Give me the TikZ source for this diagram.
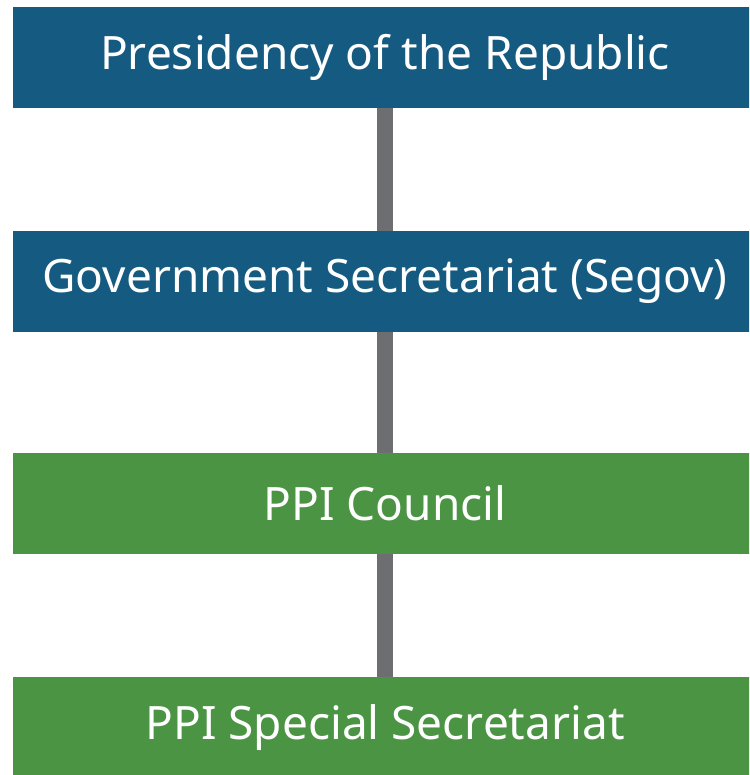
\documentclass[tikz,border=0pt]{standalone}
\usepackage{fontspec}
\setmainfont{Noto Sans}
\usetikzlibrary{positioning}
\definecolor{segblue}{RGB}{21,90,128}
\definecolor{ppigreen}{RGB}{74,148,67}
\definecolor{linkgray}{RGB}{109,110,113}
\tikzset{gov/.style={rectangle,fill=segblue,text=white,minimum width=744pt,minimum height=101pt,inner sep=0pt,font=\fontsize{46}{52}\selectfont},
            ppi/.style={gov,fill=ppigreen}, link/.style={linkgray,line width=16pt}}

\begin{document}
\begin{tikzpicture}[x=1pt,y=-1pt]
\useasboundingbox (0,0) rectangle (749,775);
\clip (0,0) rectangle (749,775);
\node[gov] at (385,57.5)(1){Presidency of the Republic};
\node[gov] at (385,281.5)(2){Government Secretariat (Segov)};
\node[ppi] at (385,503.5)(3){PPI Council};
\node[ppi] at (385,727.5)(4){PPI Special Secretariat};
\draw[link] (1) -- (2);
\draw[link] (2) -- (3);
\draw[link] (3) -- (4);
\end{tikzpicture}
\end{document}
